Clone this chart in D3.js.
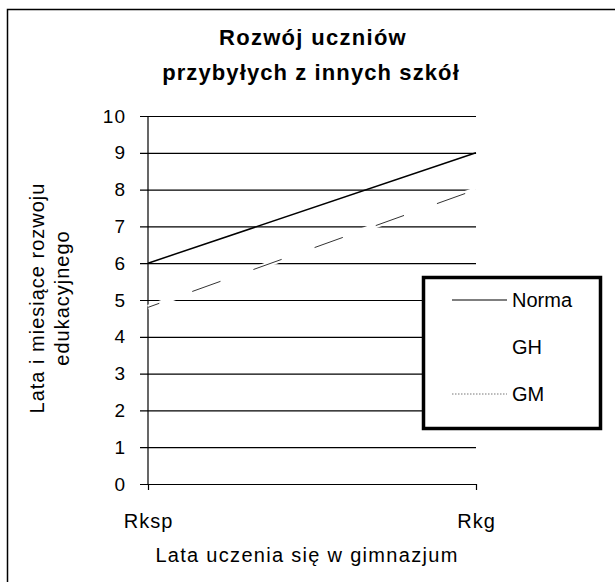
<!DOCTYPE html>
<html>
<head>
<meta charset="utf-8">
<script src="https://d3js.org/d3.v7.min.js"></script>
<style>
  body { margin: 0; background: #ffffff; }
  text { font-family: "Liberation Sans", Arial, sans-serif; fill: #000; }
</style>
</head>
<body>
<svg id="chart"></svg>
<script>
// data
var categories = ["Rksp", "Rkg"];
var normaValues = [6, 9];
var ghValues = [4.8, 8];
var gmValues = [4.8, 8];
var yTicks = [0, 1, 2, 3, 4, 5, 6, 7, 8, 9, 10];
var seriesNames = ["Norma", "GH", "GM"];

var width = 615, height = 582;

var svg = d3.select("#chart")
    .attr("width", width)
    .attr("height", height);

// outer frame (cut off on right and bottom in the scan)
svg.append("rect")
    .attr("x", 7.5)
    .attr("y", 9.5)
    .attr("width", 640)
    .attr("height", 600)
    .attr("fill", "none")
    .attr("stroke", "#000")
    .attr("stroke-width", 1.5);

// title
svg.append("text")
    .attr("x", 313).attr("y", 45)
    .attr("text-anchor", "middle")
    .style("font-size", "22px")
    .style("font-weight", "bold")
    .style("letter-spacing", "1.3px")
    .text("Rozwój uczniów");
svg.append("text")
    .attr("x", 311).attr("y", 80)
    .attr("text-anchor", "middle")
    .style("font-size", "22px")
    .style("font-weight", "bold")
    .style("letter-spacing", "1.1px")
    .text("przybyłych z innych szkół");

var x = d3.scalePoint()
    .domain(categories)
    .range([148, 476]);

var y = d3.scaleLinear()
    .domain([0, 10])
    .range([484, 116]);

// gridlines + y ticks
var yAxis = d3.axisLeft(y)
    .tickValues(yTicks)
    .tickSize(-(476 - 140))
    .tickPadding(14)
    .tickFormat(d3.format("d"));

var gy = svg.append("g")
    .attr("transform", "translate(140,0)")
    .call(yAxis);
gy.select(".domain").remove();
gy.selectAll(".tick line")
    .attr("stroke", "#000")
    .attr("stroke-width", 1.2);
gy.selectAll(".tick text")
    .style("font-size", "19px")
    .style("letter-spacing", "1px")
    .style("font-family", "Liberation Sans, Arial, sans-serif")
    .attr("fill", "#000");

// vertical axis line
svg.append("line")
    .attr("x1", 148).attr("x2", 148)
    .attr("y1", y(10)).attr("y2", y(0))
    .attr("stroke", "#000")
    .attr("stroke-width", 1.2);

// x axis
var gx = svg.append("g")
    .attr("transform", "translate(0," + y(0) + ")")
    .call(d3.axisBottom(x).tickSize(6).tickPadding(24).tickSizeOuter(0));
gx.select(".domain").remove();
gx.selectAll(".tick line").attr("stroke", "#000").attr("stroke-width", 1.2);
gx.selectAll(".tick text")
    .style("font-size", "20px")
    .style("letter-spacing", "1px")
    .style("font-family", "Liberation Sans, Arial, sans-serif")
    .attr("fill", "#000");

// axis titles
svg.append("text")
    .attr("x", 307).attr("y", 562)
    .attr("text-anchor", "middle")
    .style("font-size", "20px")
    .style("letter-spacing", "1.3px")
    .text("Lata uczenia się w gimnazjum");

svg.append("text")
    .attr("transform", "translate(44,298) rotate(-90)")
    .attr("text-anchor", "middle")
    .style("font-size", "20px")
    .style("letter-spacing", "1px")
    .text("Lata i miesiące rozwoju");
svg.append("text")
    .attr("transform", "translate(69,298) rotate(-90)")
    .attr("text-anchor", "middle")
    .style("font-size", "20px")
    .style("letter-spacing", "1px")
    .text("edukacyjnego");

// lines
var line = d3.line()
    .x(function(d, i){ return x(categories[i]); })
    .y(function(d){ return y(d); });

// GH is drawn in white, it only shows as gaps in the gridlines
svg.append("path")
    .datum(ghValues)
    .attr("d", line)
    .attr("fill", "none")
    .attr("stroke", "#ffffff")
    .attr("stroke-width", 5);

svg.append("path")
    .datum(gmValues)
    .attr("d", line)
    .attr("fill", "none")
    .attr("stroke", "#333")
    .attr("stroke-width", 1)
    .attr("stroke-dasharray", "30,35")
    .attr("stroke-dashoffset", 18);

svg.append("path")
    .datum(normaValues)
    .attr("d", line)
    .attr("fill", "none")
    .attr("stroke", "#000")
    .attr("stroke-width", 1.5);

// legend
var legend = svg.append("g");
legend.append("rect")
    .attr("x", 423.5).attr("y", 277.5)
    .attr("width", 177).attr("height", 151)
    .attr("fill", "#fff")
    .attr("stroke", "#000")
    .attr("stroke-width", 3.5);

var legendStyles = [
  { stroke: "#000", dash: null, width: 1.2 },
  { stroke: "#fff", dash: null, width: 1.2 },
  { stroke: "#777", dash: "1.5,1.5", width: 1 }
];

seriesNames.forEach(function(name, i){
  var ly = 300 + i * 47;
  legend.append("line")
      .attr("x1", 452).attr("x2", 507)
      .attr("y1", ly).attr("y2", ly)
      .attr("stroke", legendStyles[i].stroke)
      .attr("stroke-width", legendStyles[i].width)
      .attr("stroke-dasharray", legendStyles[i].dash);
  legend.append("text")
      .attr("x", 512).attr("y", ly + 7)
      .style("font-size", "20px")
      .text(name);
});
</script>
</body>
</html>
